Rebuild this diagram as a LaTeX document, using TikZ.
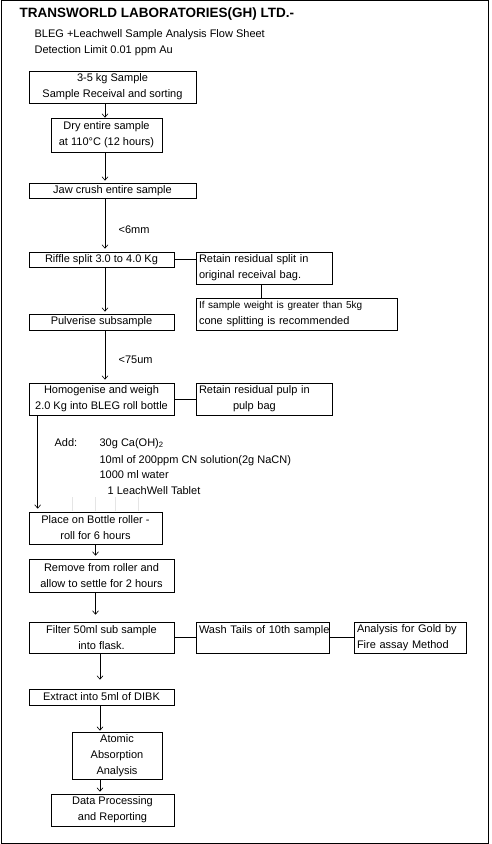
\documentclass[tikz,border=0pt]{standalone}
\usepackage{fontspec}
\setmainfont{Liberation Sans}
\usetikzlibrary{arrows.meta}
\begin{document}
\begin{tikzpicture}[x=1pt,y=-1pt,font=\fontsize{11}{16}\selectfont,line width=.6pt,
  box/.style={draw,inner sep=0pt,align=center},
  note/.style={draw,inner xsep=3pt,inner ysep=0pt,align=left},
  arr/.style={-{Straight Barb[length=3.5pt,width=6pt]}}]
\useasboundingbox (0,0) rectangle (491,844);
\draw (1,.5) rectangle (488,843);
\node[anchor=base west,font=\bfseries\fontsize{13.5}{16}\selectfont] (title) at (16,17) {TRANSWORLD LABORATORIES(GH) LTD.-};
\node[anchor=base west] (sheet) at (31,37) {BLEG +Leachwell Sample Analysis Flow Sheet};
\node[anchor=base west] (limit) at (31,53.5) {Detection Limit 0.01 ppm Au};
\coordinate (spine) at (105,0);
\coordinate (spineb) at (100,0);
\node[box,minimum width=167,minimum height=32] (receive) at (112.5,87) {3-5 kg Sample\\Sample Receival and sorting};
\node[box,minimum width=111,minimum height=34] (dry) at (106.5,135) {Dry entire sample\\at 110°C (12 hours)};
\node[box,minimum width=167,minimum height=15] (crush) at (112.5,190.5) {Jaw crush entire sample};
\node[box,minimum width=145,minimum height=15] (riffle) at (101.5,259.5) {Riffle split 3.0 to 4.0 Kg};
\node[note,text width=130,minimum height=32] (retainsplit) at (264,268) {Retain residual split in\\original receival bag.};
\node[note,text width=195,minimum height=32] (conesplit) at (296.5,314) {{\fontsize{10}{16}\selectfont If sample weight is greater than 5kg}\\cone splitting is recommended};
\node[box,minimum width=145,minimum height=16] (pulverise) at (101.5,322) {Pulverise subsample};
\node[box,minimum width=145,minimum height=32] (homogenise) at (101.5,399) {Homogenise and weigh\\2.0 Kg into BLEG roll bottle};
\node[note,text width=130,minimum height=32] (retainpulp) at (264,399) {Retain residual pulp in\\\hspace*{34pt}pulp bag};
\node[anchor=base west] (add) at (51,446) {Add:};
\node[anchor=base west] (lime) at (96,446) {30g Ca(OH)\textsubscript{2}};
\node[anchor=base west] (cyanide) at (96,463) {10ml of 200ppm CN solution(2g NaCN)};
\node[anchor=base west] (water) at (96,478) {1000 ml water};
\node[anchor=base west] (tablet) at (104,494) {1 LeachWell Tablet};
\foreach \x in {72,95,115,138} \draw[black!10,line width=.4pt] (\x,497) -- (\x,511);
\node[box,minimum width=133,minimum height=32] (roller) at (95.5,528) {Place on Bottle roller -\\roll for 6 hours};
\node[box,minimum width=145,minimum height=33] (settle) at (101.5,575.5) {Remove from roller and\\allow to settle for 2 hours};
\node[box,minimum width=145,minimum height=31] (filter) at (101.5,637.5) {Filter 50ml sub sample\\into flask.};
\node[note,text width=127,minimum height=31] (washtails) at (262.5,637.5) {\mbox{Wash Tails of 10th sample}\\\mbox{}};
\node[note,text width=106,minimum height=31] (fireassay) at (410,637.5) {Analysis for Gold by\\Fire assay Method};
\node[box,minimum width=145,minimum height=16] (extract) at (101.5,697) {Extract into 5ml of DIBK};
\node[box,minimum width=90,minimum height=47] (aas) at (117,755.5) {Atomic\\Absorption\\Analysis};
\node[box,minimum width=123,minimum height=32] (report) at (112.5,810) {Data Processing\\and Reporting};
\draw[arr] (receive.south -| spine) -- (dry.north -| spine);
\draw[arr] (dry.south -| spine) -- ([yshift=2]crush.north -| spine);
\draw[arr] (crush.south -| spine) -- ([yshift=3]riffle.north -| spine) node[pos=.62,right=10pt] (sixmm) {\textless6mm};
\draw[arr] (riffle.south -| spine) -- ([yshift=2]pulverise.north -| spine);
\draw[arr] (pulverise.south -| spine) -- ([yshift=3]homogenise.north -| spine) node[pos=.6,right=10pt] (sieve) {\textless75um};
\draw[arr] ([xshift=9]homogenise.south west) -- ([xshift=9,yshift=3]roller.north west);
\draw[arr] (roller.south) -- ([yshift=3]roller.south |- settle.north);
\draw[arr] (settle.south -| roller) -- ([yshift=7]filter.north -| roller);
\draw[arr] (filter.south -| spineb) -- ([yshift=9]extract.north -| spineb);
\draw[arr] (extract.south -| spineb) -- ([yshift=1]aas.north -| spineb);
\draw[arr] (aas.south -| spineb) -- ([yshift=2]report.north -| spineb);
\draw (riffle.east) -- (riffle.east -| retainsplit.west);
\draw ([xshift=-3]retainsplit.south) -- ([xshift=-3]retainsplit.south |- conesplit.north);
\draw (homogenise.east) -- (homogenise.east -| retainpulp.west);
\draw (filter.east) -- (filter.east -| washtails.west);
\draw (washtails.east) -- (washtails.east -| fireassay.west);
\end{tikzpicture}
\end{document}
